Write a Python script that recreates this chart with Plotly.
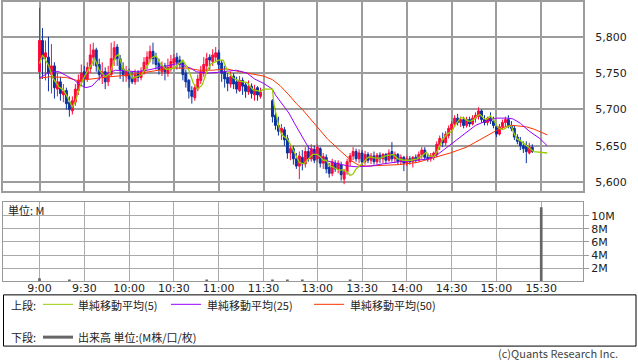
import plotly.graph_objects as go

# ---------------- data ----------------
# 2-minute candles, morning session 9:00-11:28
am_open  = [5752,5795,5772,5772,5748,5760,5728,5738,5720,5726,5710,5698,5710,5726,5738,5752,5742,5756,5772,5782,
            5762,5746,5752,5738,5748,5768,5786,5770,5756,5746,5752,5744,5738,5750,5744,5750,5762,5770,5780,5772,
            5764,5752,5760,5750,5756,5764,5772,5768,5764,5750,5740,5726,5716,5728,5740,5750,5760,5772,5766,5772,
            5778,5764,5752,5744,5735,5746,5738,5726,5740,5734,5724,5732,5720,5730,5718]
am_high  = [5840,5812,5795,5800,5790,5765,5750,5745,5735,5730,5718,5718,5735,5748,5762,5760,5765,5790,5792,5785,
            5770,5765,5758,5760,5792,5794,5790,5775,5765,5760,5756,5752,5755,5754,5758,5772,5780,5788,5792,5778,
            5770,5766,5764,5770,5775,5776,5778,5774,5768,5755,5742,5732,5735,5748,5760,5772,5778,5776,5783,5786,
            5782,5768,5760,5750,5752,5750,5745,5746,5744,5738,5740,5736,5734,5732,5730]
am_low   = [5742,5742,5740,5725,5722,5715,5718,5712,5710,5700,5690,5693,5705,5720,5732,5730,5738,5750,5760,5752,
            5740,5735,5728,5732,5745,5760,5760,5742,5738,5738,5730,5735,5734,5738,5740,5748,5755,5765,5762,5755,
            5748,5746,5740,5745,5752,5760,5755,5756,5740,5730,5715,5708,5712,5725,5735,5745,5752,5755,5760,5765,
            5755,5738,5730,5725,5730,5728,5722,5724,5720,5716,5720,5715,5712,5712,5715]
am_close = [5795,5770,5778,5750,5760,5730,5738,5722,5725,5708,5700,5712,5728,5740,5750,5742,5758,5775,5782,5760,
            5748,5752,5738,5750,5770,5785,5770,5755,5748,5752,5742,5738,5748,5744,5752,5765,5772,5780,5770,5762,
            5755,5760,5752,5758,5766,5770,5765,5762,5748,5738,5725,5718,5730,5742,5752,5762,5770,5768,5775,5778,
            5762,5750,5742,5736,5745,5735,5728,5740,5732,5725,5732,5722,5728,5720,5724]

# 2-minute candles, afternoon session 12:30-15:24
pm_open  = [5712,5692,5678,5668,5672,5660,5640,5646,5632,5622,5634,5625,5642,5632,5645,
            5632,5646,5626,5634,5620,5612,5626,5618,5624,5604,5614,5628,5636,5642,5632,
            5640,5628,5638,5630,5636,5628,5637,5632,5638,5630,5642,5632,5638,5628,5634,
            5626,5632,5628,5634,5630,5638,5644,5634,5632,5636,5638,5650,5658,5654,5664,
            5672,5680,5688,5682,5686,5678,5686,5680,5688,5690,5698,5686,5682,5688,5684,
            5676,5666,5676,5682,5686,5678,5674,5662,5656,5650,5650,5640,5648]
pm_high  = [5714,5702,5690,5680,5676,5665,5652,5650,5640,5642,5644,5648,5650,5652,5650,
            5652,5648,5640,5638,5626,5632,5630,5630,5628,5618,5632,5640,5648,5646,5645,
            5644,5643,5641,5640,5642,5640,5641,5640,5640,5645,5655,5642,5640,5638,5636,
            5636,5636,5636,5638,5642,5648,5648,5640,5640,5642,5656,5664,5668,5670,5678,
            5684,5692,5694,5690,5690,5690,5690,5692,5696,5703,5700,5692,5690,5696,5690,
            5680,5680,5686,5690,5692,5684,5678,5666,5662,5656,5656,5654,5652]
pm_low   = [5682,5672,5664,5658,5650,5632,5630,5624,5618,5604,5616,5620,5628,5628,5626,
            5628,5620,5618,5612,5606,5608,5614,5612,5602,5597,5610,5622,5630,5628,5626,
            5622,5624,5626,5625,5624,5624,5626,5626,5625,5628,5628,5626,5624,5624,5615,
            5622,5624,5620,5626,5628,5632,5630,5628,5628,5630,5634,5644,5648,5650,5660,
            5668,5676,5678,5676,5674,5675,5676,5678,5682,5686,5682,5678,5678,5680,5674,
            5662,5664,5672,5676,5674,5670,5658,5652,5644,5640,5626,5638,5640]
pm_close = [5690,5678,5670,5674,5658,5640,5646,5632,5622,5636,5625,5642,5632,5646,5630,
            5648,5626,5635,5618,5612,5628,5618,5626,5610,5614,5628,5636,5642,5632,5640,
            5628,5638,5630,5636,5628,5637,5632,5638,5630,5640,5632,5638,5628,5634,5626,
            5632,5628,5634,5630,5638,5644,5634,5632,5636,5640,5652,5660,5654,5666,5674,
            5680,5688,5682,5686,5678,5686,5680,5688,5692,5698,5686,5682,5688,5684,5678,
            5666,5676,5682,5686,5678,5674,5662,5656,5650,5646,5642,5648,5642]

# simple moving averages
ma5_times = ["9:00","9:02","9:06","9:09","9:13","9:16","9:19","9:22","9:24","9:27","9:30","9:34","9:37","9:40",
             "9:44","9:47","9:51","9:53","9:56","10:00","10:02","10:05","10:08","10:12","10:15","10:18","10:21",
             "10:25","10:30","10:34","10:36","10:40","10:43","10:46","10:49","10:52","10:55","11:00","11:03",
             "11:06","11:10","11:14","11:19","11:23","11:28","11:30",
             "12:30","12:31","12:33","12:35","12:37","12:40","12:42","12:44","12:46","12:48","12:51","12:53",
             "12:55","12:57","13:00","13:02","13:04","13:06","13:08","13:11","13:13","13:15","13:17","13:20",
             "13:22","13:24","13:26","13:29","13:31","13:33","13:35","13:39","13:42","13:46","13:51","13:54",
             "13:58","14:03","14:07","14:10","14:13","14:15","14:18","14:20","14:22","14:24","14:27","14:30",
             "14:32","14:34","14:36","14:38","14:41","14:43","14:45","14:47","14:49","14:51","14:53","14:56",
             "14:58","15:01","15:03","15:05","15:08","15:10","15:12","15:14","15:16","15:19","15:21","15:23",
             "15:25","15:28","15:34"]
ma5_values = [5763,5775,5761,5743,5731,5727,5716,5703,5711,5731,5745,5759,5770,5754,
              5745,5749,5773,5776,5755,5753,5743,5745,5747,5759,5771,5774,5763,
              5755,5757,5764,5768,5754,5736,5728,5734,5752,5763,5768,5768,
              5752,5743,5739,5737,5727,5725,5728,
              5728,5707,5689,5670,5664,5659,5652,5643,5634,5627,5625,5630,
              5634,5638,5638,5635,5630,5630,5623,5620,5618,5616,5617,5614,
              5609,5611,5618,5623,5627,5632,5635,5633,5633,5636,5638,5632,
              5630,5630,5632,5636,5641,5636,5635,5641,5650,5659,5666,5670,
              5677,5684,5689,5688,5684,5684,5686,5691,5693,5689,5686,5691,
              5686,5675,5673,5673,5677,5677,5666,5659,5657,5652,5648,5645,
              5642,5641,5640]

ma25_times = ["9:00","9:07","9:13","9:18","9:23","9:27","9:31","9:35","9:38","9:42","9:47","9:51","9:58","10:05",
              "10:12","10:18","10:25","10:32","10:36","10:41","10:45","10:52","10:59","11:05","11:12","11:19",
              "11:24","11:30","12:30","12:32","12:36","12:41","12:45","12:50","12:54","12:59","13:03","13:07",
              "13:12","13:16","13:21","13:26","13:31","13:36","13:44","13:55","14:07","14:15","14:20","14:25",
              "14:33","14:40","14:46","14:53","15:00","15:07","15:11","15:16","15:22","15:29","15:34"]
ma25_values = [5743,5752,5752,5747,5741,5734,5730,5732,5738,5747,5751,5754,5753,5752,
               5754,5757,5760,5763,5761,5757,5752,5750,5751,5752,5754,5750,
               5742,5736,5728,5720,5709,5695,5680,5663,5648,5638,5633,5629,
               5626,5624,5622,5621,5621,5622,5625,5628,5630,5632,5637,5645,
               5657,5669,5678,5684,5688,5688,5687,5681,5670,5660,5650]

ma50_times = ["9:00","9:07","9:18","9:25","9:31","9:38","9:47","9:58","10:07","10:18","10:29","10:38","10:47",
              "10:56","11:05","11:14","11:23","11:30","12:30","12:35","12:41","12:46","12:50","12:55","13:00",
              "13:07","13:16","13:23","13:28","13:33","13:44","13:55","14:07","14:18","14:29","14:40","14:51",
              "15:00","15:07","15:11","15:20","15:25","15:34"]
ma50_values = [5743,5745,5744,5740,5741,5743,5745,5747,5750,5754,5757,5757,5754,
               5754,5756,5752,5749,5746,5741,5733,5720,5708,5700,5688,5676,
               5659,5642,5629,5623,5622,5623,5624,5627,5633,5640,5648,5661,
               5671,5677,5678,5676,5673,5665]

# volume (million shares), only bars visible in the chart
vol_times  = ["9:00","9:20","10:52","12:30","12:40","12:50","13:22","15:30"]
vol_values = [0.5, 0.3, 0.3, 0.3, 0.3, 0.3, 0.3, 11.3]

tick_labels = ["9:00","9:30","10:00","10:30","11:00","11:30","13:00","13:30","14:00","14:30","15:00","15:30"]
price_ticks = [5600, 5650, 5700, 5750, 5800]
vol_ticks = [2, 4, 6, 8, 10]

# ---------------- helpers ----------------
LUNCH_SHIFT = 54  # minutes removed for lunch break on the axis

def pos(t):
    h, m = map(int, t.split(":"))
    mins = (h - 9) * 60 + m
    return mins if mins <= 150 else mins - LUNCH_SHIFT

def session(start, end, step=2):
    a, b = pos(start), pos(end)
    out = []
    p = a
    while p <= b:
        out.append(p)
        p += step
    return out

cx = session("9:00", "11:28") + session("12:30", "15:24")
c_open = am_open + pm_open
c_high = am_high + pm_high
c_low = am_low + pm_low
c_close = am_close + pm_close

W, H = 638, 362
def fx(x): return x / W
def fy(y): return 1 - y / H

UP = "#ff0838"
DOWN = "#0a33a0"
C5, C25, C50 = "#99cc00", "#9900ff", "#ff3300"
GRID = "#9c9c9c"

fig = go.Figure()
fig.add_trace(go.Candlestick(
    x=cx, open=c_open, high=c_high, low=c_low, close=c_close,
    increasing=dict(line=dict(color=UP, width=1), fillcolor=UP),
    decreasing=dict(line=dict(color=DOWN, width=1), fillcolor=DOWN),
    whiskerwidth=0, xaxis="x", yaxis="y", showlegend=False, hoverinfo="skip"))
fig.add_trace(go.Scatter(x=[pos(t) for t in ma50_times], y=ma50_values, mode="lines",
                         line=dict(color=C50, width=1), xaxis="x", yaxis="y", showlegend=False))
fig.add_trace(go.Scatter(x=[pos(t) for t in ma25_times], y=ma25_values, mode="lines",
                         line=dict(color=C25, width=1), xaxis="x", yaxis="y", showlegend=False))
fig.add_trace(go.Scatter(x=[pos(t) for t in ma5_times], y=ma5_values, mode="lines",
                         line=dict(color=C5, width=1.3), xaxis="x", yaxis="y", showlegend=False))
fig.add_trace(go.Bar(x=[pos(t) for t in vol_times], y=vol_values, width=1.8,
                     marker=dict(color="#666666", line=dict(width=0)),
                     xaxis="x2", yaxis="y2", showlegend=False))

xr = [(3 - 39.5) / 1.4933, (583 - 39.5) / 1.4933]
tickpos = [pos(t) for t in tick_labels]
font_lat = "DejaVu Sans, Noto Sans CJK JP, sans-serif"

fig.update_layout(
    width=W, height=H, margin=dict(l=0, r=0, t=0, b=0),
    paper_bgcolor="white", plot_bgcolor="white", boxgap=0.08,
    font=dict(family=font_lat, size=11, color="#222"),
    xaxis=dict(domain=[fx(3), fx(583)], range=xr, tickvals=tickpos, showticklabels=False,
               showgrid=True, gridcolor=GRID, gridwidth=2, zeroline=False,
               showline=True, linecolor=GRID, linewidth=2, mirror=True,
               rangeslider=dict(visible=False), anchor="y", fixedrange=True),
    yaxis=dict(domain=[fy(190), fy(0)], range=[5587.7, 5848], side="right",
               tickvals=price_ticks, tickformat=",d", showgrid=True, gridcolor=GRID, gridwidth=2,
               zeroline=False, showline=True, linecolor=GRID, linewidth=2, mirror=True,
               ticks="", ticklabelstandoff=8, tickfont=dict(size=11, color="#222"), anchor="x"),
    xaxis2=dict(domain=[fx(3), fx(583)], range=xr, matches="x", tickvals=tickpos, ticktext=tick_labels,
                showgrid=True, gridcolor="#aaaaaa", gridwidth=1, zeroline=False,
                showline=True, linecolor="#999999", linewidth=1, mirror=True, ticks="",
                ticklabelstandoff=-4,
                tickfont=dict(size=11, color="#222"), anchor="y2"),
    yaxis2=dict(domain=[fy(281), fy(201)], range=[0, 12.1], side="right",
                tickvals=vol_ticks, ticktext=[f"{v}M" for v in vol_ticks],
                showgrid=True, gridcolor="#aaaaaa", gridwidth=1, zeroline=False,
                showline=True, linecolor="#999999", linewidth=1, mirror=True,
                ticks="outside", ticklen=5, tickcolor="#999999",
                tickfont=dict(size=11, color="#222"), anchor="x2"),
)

shapes = [
    dict(type="rect", xref="paper", yref="paper", x0=fx(3.5), x1=fx(636), y0=fy(346), y1=fy(294.5),
         line=dict(color="black", width=1), fillcolor="rgba(0,0,0,0)"),
    dict(type="line", xref="paper", yref="paper", x0=fx(43), x1=fx(73), y0=fy(304), y1=fy(304),
         line=dict(color=C5, width=1)),
    dict(type="line", xref="paper", yref="paper", x0=fx(171), x1=fx(201), y0=fy(304), y1=fy(304),
         line=dict(color=C25, width=1)),
    dict(type="line", xref="paper", yref="paper", x0=fx(314), x1=fx(344), y0=fy(304), y1=fy(304),
         line=dict(color=C50, width=1)),
    dict(type="line", xref="paper", yref="paper", x0=fx(43), x1=fx(73), y0=fy(337), y1=fy(337),
         line=dict(color="#666666", width=3)),
]
fig.update_layout(shapes=shapes)

jp = "Noto Sans CJK JP, sans-serif"
def ann(text, x, y, anchor="left", yanchor="middle", size=11, color="#222", family=jp):
    return dict(text=text, x=fx(x), y=fy(y), xref="paper", yref="paper", xanchor=anchor,
                yanchor=yanchor, showarrow=False, borderpad=0,
                font=dict(size=size, color=color, family=family))

fig.update_layout(annotations=[
    ann("単位: M", 7, 209),
    ann("上段:", 10, 305),
    ann("単純移動平均(5)", 77, 305),
    ann("単純移動平均(25)", 206, 305),
    ann("単純移動平均(50)", 349, 305),
    ann("下段:", 10, 337),
    ann("出来高 単位:(M株/口/枚)", 77, 337),
    ann("(c)Quants Research Inc.", 619, 362, anchor="right", yanchor="bottom", color="#444"),
])

fig.write_html("out.html", config={"displayModeBar": False, "staticPlot": True})

# remove the browser's default page margin so the figure fills the window exactly
with open("out.html", encoding="utf-8") as f:
    html = f.read()
html = html.replace("<head>", "<head><style>html,body{margin:0;padding:0;overflow:hidden;}</style>", 1)
with open("out.html", "w", encoding="utf-8") as f:
    f.write(html)
